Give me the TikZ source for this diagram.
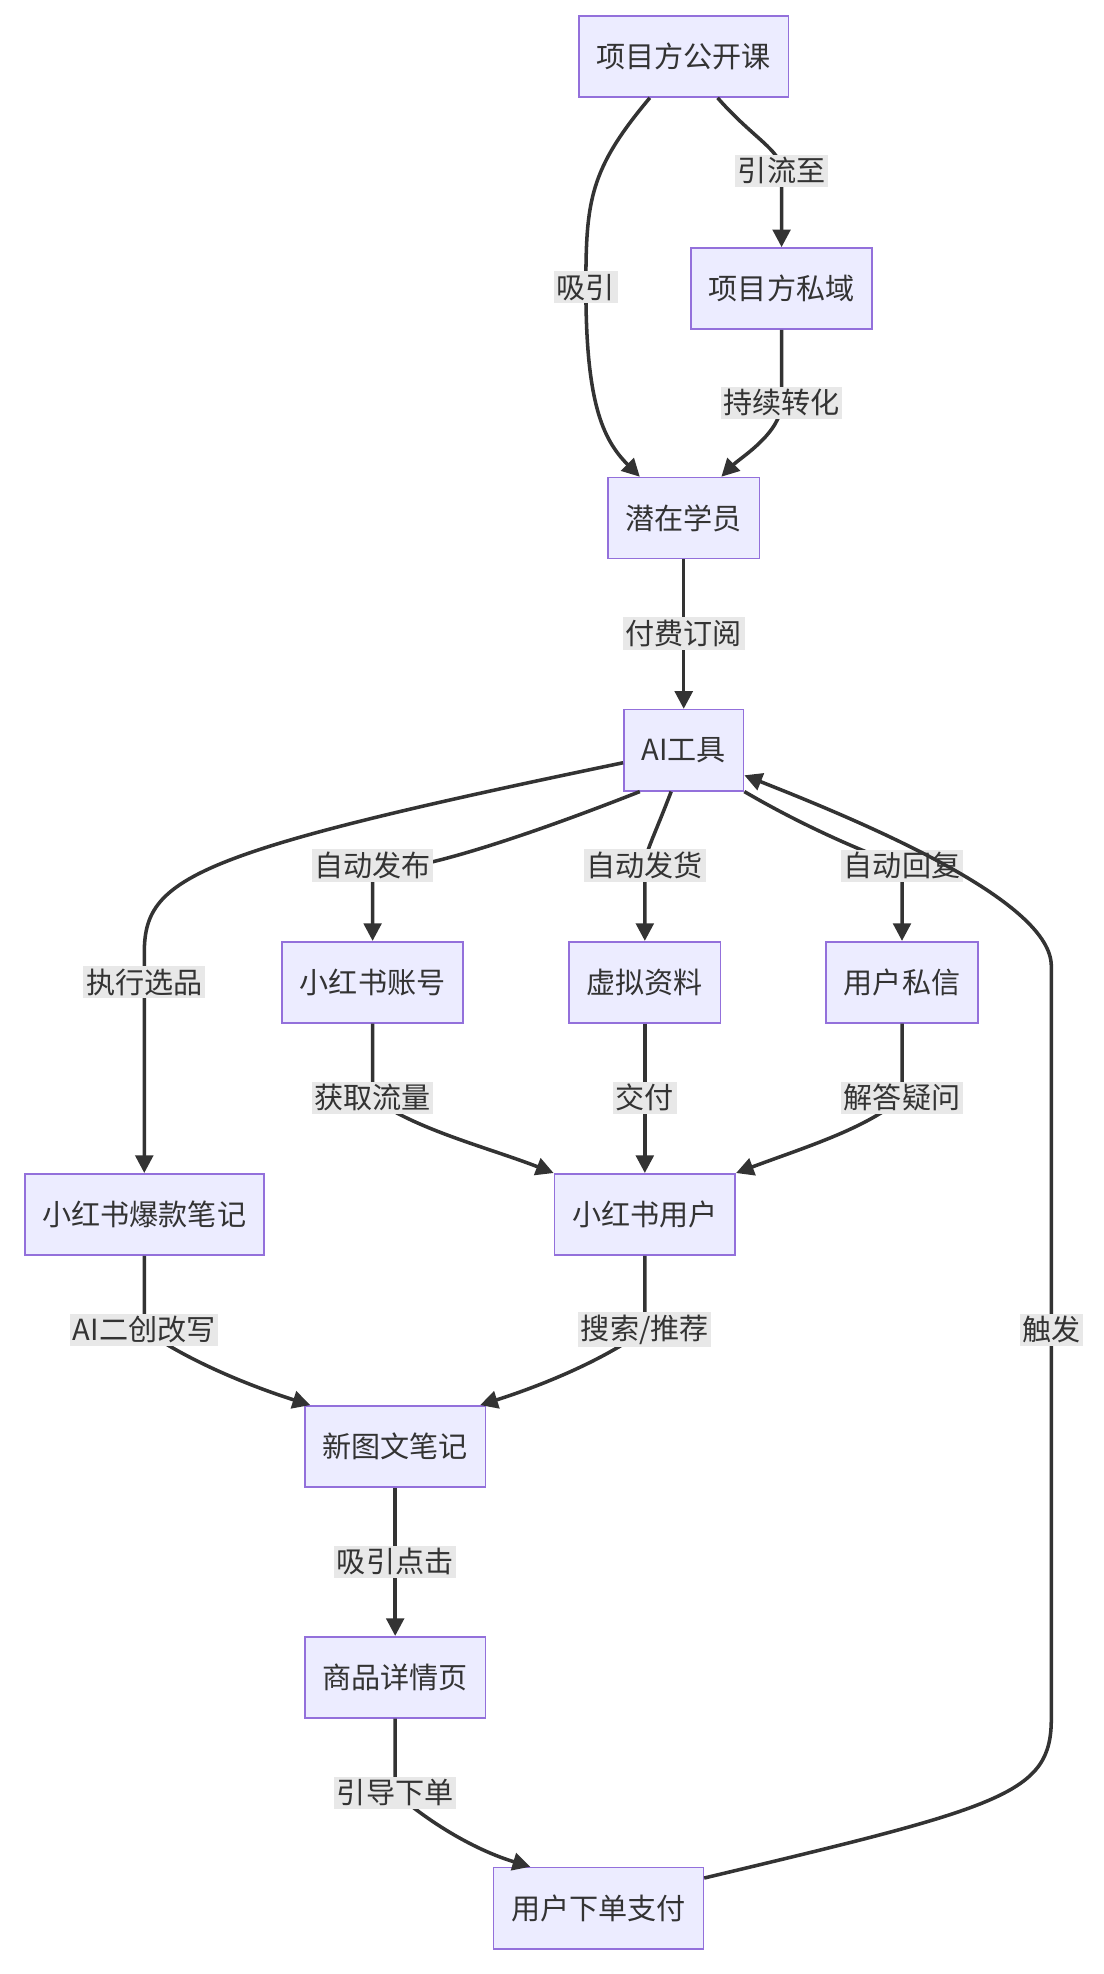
\documentclass[tikz,border=0pt]{standalone}
\usepackage{fontspec}
\setmainfont{Noto Sans CJK SC}
\usetikzlibrary{arrows.meta,calc}
\definecolor{boxfill}{HTML}{ECECFF}
\definecolor{boxline}{HTML}{9370DB}
\definecolor{edgecol}{HTML}{333333}
\definecolor{lblbg}{HTML}{E8E8E8}
\tikzset{
  box/.style={draw=boxline, fill=boxfill, line width=0.9pt, minimum height=46pt, inner xsep=10pt, text=edgecol},
  arr/.style={draw=edgecol, line width=2pt, -{Triangle[length=10pt,width=10pt]}},
  lbl/.style={fill=lblbg, inner sep=1.5pt, text=edgecol},
}
\begin{document}
\begin{tikzpicture}[x=0.025cm, y=-0.025cm, font=\fontsize{16.5}{20}\selectfont]
\useasboundingbox (0,0) rectangle (880,1573.5);

% nodes
\node[box] (gkk) at (545,45) {项目方公开课};
\node[box] (sy) at (623,230) {项目方私域};
\node[box] (qz) at (545,413) {潜在学员};
\node[box] (ai) at (545,598) {AI工具};
\node[box] (zh) at (297,783) {小红书账号};
\node[box] (zl) at (514,783) {虚拟资料};
\node[box] (sx) at (719,783) {用户私信};
\node[box] (bk) at (115,968) {小红书爆款笔记};
\node[box] (yh) at (514,968) {小红书用户};
\node[box] (xbj) at (315,1153) {新图文笔记};
\node[box] (sp) at (315,1337) {商品详情页};
\node[box] (xd) at (477,1521) {用户下单支付};

% top part
\draw[arr] ($(gkk.south)+(-27,0)$) .. controls (470,135) and (467,160) .. (467,229) node[lbl] {吸引}
  .. controls (467,320) and (480,350) .. ($(qz.north)+(-35,0)$);
\draw[arr] ($(gkk.south)+(27,0)$) .. controls (600,110) and (623,120) .. (623,136) node[lbl] {引流至} -- (sy.north);
\draw[arr] (sy.south) -- (623,321) node[lbl] {持续转化} .. controls (623,345) and (590,365) .. ($(qz.north)+(30,0)$);
\draw[arr] (qz.south) -- (545,505) node[lbl] {付费订阅} -- (ai.north);

% AI tool outputs
\draw[arr] ($(ai.west)+(0,10)$) .. controls (150,680) and (115,700) .. (115,760) -- (115,783) node[lbl] {执行选品} -- (bk.north);
\draw[arr] ($(ai.south)+(-35,0)$) .. controls (360,690) and (297,700) .. (297,690) node[lbl] {自动发布} -- (zh.north);
\draw[arr] ($(ai.south)+(-10,0)$) .. controls (520,670) and (514,680) .. (514,690) node[lbl] {自动发货} -- (zl.north);
\draw[arr] (ai.south east) .. controls (660,670) and (719,690) .. (719,690) node[lbl] {自动回复} -- (sx.north);

% to users
\draw[arr] (zh.south) .. controls (297,840) and (297,860) .. (297,875) node[lbl] {获取流量} .. controls (330,900) and (390,915) .. ($(yh.north west)+(0,0)$);
\draw[arr] (zl.south) -- (514,875) node[lbl] {交付} -- (yh.north);
\draw[arr] (sx.south) .. controls (719,840) and (719,860) .. (719,875) node[lbl] {解答疑问} .. controls (690,900) and (640,915) .. (yh.north east);

% new notes
\draw[arr] (bk.south) .. controls (115,1030) and (115,1050) .. (115,1060) node[lbl] {AI二创改写} .. controls (150,1085) and (200,1105) .. ($(xbj.north west)+(5,0)$);
\draw[arr] (yh.south) .. controls (514,1030) and (514,1050) .. (514,1060) node[lbl] {搜索/推荐} .. controls (480,1085) and (430,1105) .. ($(xbj.north east)+(-5,0)$);
\draw[arr] (xbj.south) -- (315,1245) node[lbl] {吸引点击} -- (sp.north);
\draw[arr] (sp.south) .. controls (315,1400) and (315,1420) .. (315,1429) node[lbl] {引导下单} .. controls (345,1455) and (380,1475) .. ($(xd.north west)+(30,0)$);

% feedback
\draw[arr] ($(xd.east)+(0,-24)$) .. controls (800,1440) and (838,1430) .. (838,1370) -- (838,1060) node[lbl] {触发}
  -- (838,770) .. controls (838,720) and (700,660) .. ($(ai.east)+(0,20)$);
\end{tikzpicture}
\end{document}
